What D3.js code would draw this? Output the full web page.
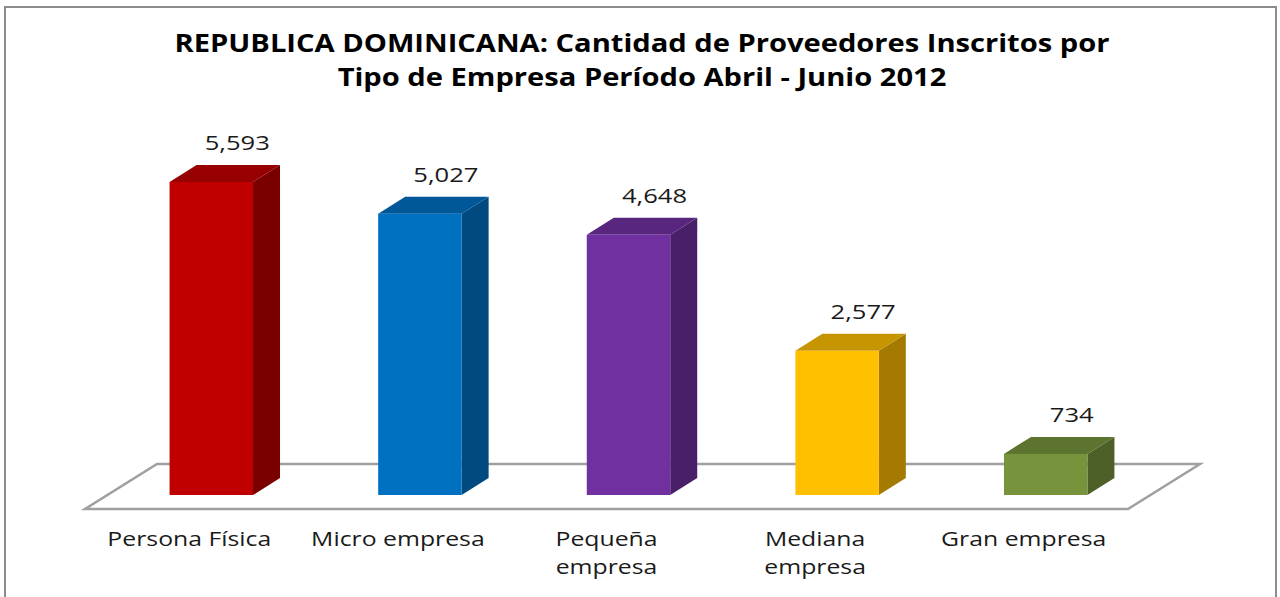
<!DOCTYPE html>
<html>
<head>
<meta charset="utf-8">
<script src="https://cdn.jsdelivr.net/npm/d3@7"></script>
<style>
  html, body { margin: 0; padding: 0; background: #fff; }
  svg { display: block; font-family: "Open Sans", "DejaVu Sans", sans-serif; }
</style>
</head>
<body>
<div id="chart"></div>
<script>
// Data
const categories = [["Persona Física"], ["Micro empresa"], ["Pequeña", "empresa"], ["Mediana", "empresa"], ["Gran empresa"]];
const values = [5593, 5027, 4648, 2577, 734];
const frontColors = ["#C00000", "#0070C0", "#7030A0", "#FFC000", "#77933C"];
const topColors = ["#960000", "#005899", "#59267F", "#C79500", "#5C742F"];
const sideColors = ["#7A0000", "#004A7F", "#4A1F6A", "#A47B00", "#4C6027"];
const titleLines = [
    "REPUBLICA DOMINICANA: Cantidad de Proveedores Inscritos por",
    "Tipo de Empresa Período Abril - Junio 2012"
];

const width = 1280, height = 597;

const svg = d3.select("#chart").append("svg")
    .attr("width", width)
    .attr("height", height);

// Chart frame
svg.append("rect")
    .attr("x", 5).attr("y", 7)
    .attr("width", 1271).attr("height", 600)
    .attr("fill", "#fff")
    .attr("stroke", "#8c8c8c")
    .attr("stroke-width", 2);

// the source picture is stretched sideways, so text gets a horizontal scale
const stretch = (cx, sx) => `translate(${cx},0) scale(${sx},1)`;

// Title
svg.append("g").selectAll("text")
    .data(titleLines)
    .enter().append("text")
    .attr("transform", stretch(642, 1.165))
    .attr("x", 0)
    .attr("y", (d, i) => 52 + i * 34)
    .attr("text-anchor", "middle")
    .attr("font-size", 25)
    .attr("font-weight", "bold")
    .attr("fill", "#000")
    .text(d => d);

// Scales
const x = d3.scaleBand()
    .domain(d3.range(values.length))
    .range([85, 1128])
    .paddingInner(0.6)
    .paddingOuter(0.3);

const floorFront = 509;
const y = d3.scaleLinear()
    .domain([0, 6000])
    .range([floorFront, floorFront - 6000 * 0.05597]);

// oblique depth: floor depth, bar offset and bar depth
const floorDepth = [72, -45];
const barShift = [22, -14];
const barDepth = [27, -17];

// Floor
const floorPts = [
    [85, floorFront],
    [1128, floorFront],
    [1128 + floorDepth[0], floorFront + floorDepth[1]],
    [85 + floorDepth[0], floorFront + floorDepth[1]]
];
svg.append("polygon")
    .attr("points", floorPts.map(p => p.join(",")).join(" "))
    .attr("fill", "#fff")
    .attr("stroke", "#a0a0a0")
    .attr("stroke-width", 2.5);

// Bars
const bars = svg.append("g").selectAll("g")
    .data(values)
    .enter().append("g");

bars.each(function (d, i) {
    const g = d3.select(this);
    const x0 = x(i) + barShift[0];
    const x1 = x0 + x.bandwidth();
    const yb = y(0) + barShift[1];
    const yt = y(d) + barShift[1];
    const dx = barDepth[0], dy = barDepth[1];

    // side face
    g.append("polygon")
        .attr("points", [[x1, yt], [x1 + dx, yt + dy], [x1 + dx, yb + dy], [x1, yb]].map(p => p.join(",")).join(" "))
        .attr("fill", sideColors[i]);
    // top face
    g.append("polygon")
        .attr("points", [[x0, yt], [x0 + dx, yt + dy], [x1 + dx, yt + dy], [x1, yt]].map(p => p.join(",")).join(" "))
        .attr("fill", topColors[i]);
    // front face
    g.append("rect")
        .attr("x", x0).attr("y", yt)
        .attr("width", x.bandwidth())
        .attr("height", yb - yt)
        .attr("fill", frontColors[i]);

    // value label
    g.append("text")
        .attr("transform", stretch(x0 + x.bandwidth() / 2 + 26, 1.28))
        .attr("x", 0)
        .attr("y", yt + dy - 15)
        .attr("text-anchor", "middle")
        .attr("font-size", 20)
        .attr("fill", "#1a1a1a")
        .text(d3.format(",")(d));
});

// Category labels
const cats = svg.append("g").selectAll("text")
    .data(categories)
    .enter().append("text")
    .attr("transform", (d, i) => stretch(x(i) + x.bandwidth() / 2, 1.24))
    .attr("x", 0)
    .attr("y", 546)
    .attr("text-anchor", "middle")
    .attr("font-size", 20)
    .attr("fill", "#1a1a1a");

cats.selectAll("tspan")
    .data(d => d)
    .enter().append("tspan")
    .attr("x", 0)
    .attr("dy", (d, i) => i === 0 ? 0 : 28)
    .text(d => d);
</script>
</body>
</html>
